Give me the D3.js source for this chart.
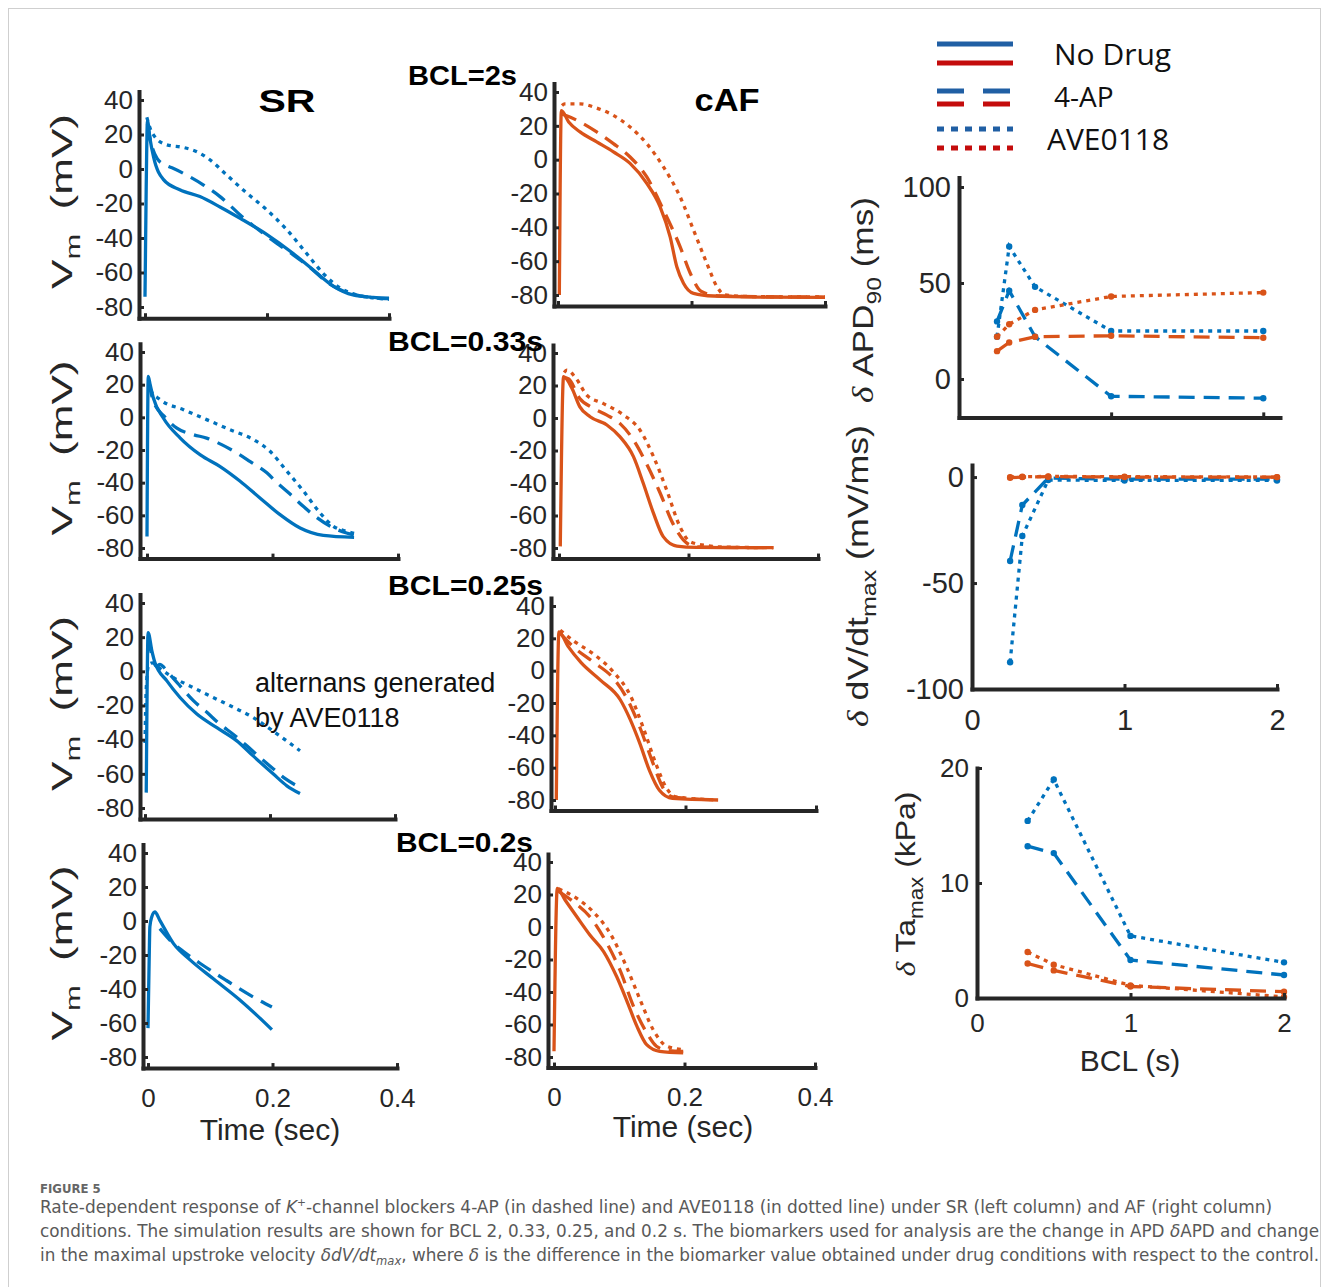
<!DOCTYPE html>
<html><head><meta charset="utf-8">
<script src="https://cdn.jsdelivr.net/npm/d3@7"></script>
<style>body{margin:0;background:#fff}</style>
</head><body>
<svg id="chart" width="1329" height="1287"></svg>
<script>
// ---------------- DATA ----------------
// Action potential traces: [time (s), Vm (mV)]
const sr2_noDrug = [[0,-74],[0.002,-10],[0.004,28],[0.008,18],[0.014,7],[0.03,-6],[0.057,-12],[0.09,-16],[0.123,-22],[0.156,-28.6],[0.2,-38],[0.243,-49],[0.276,-58.6],[0.309,-68],[0.341,-73],[0.374,-74.4],[0.4,-74.8]];
const sr2_4ap = [[0.004,26],[0.01,15],[0.02,6],[0.035,2],[0.046,0.4],[0.068,-3.5],[0.096,-9.3],[0.123,-16],[0.139,-21],[0.156,-26.7],[0.178,-33],[0.2,-39],[0.24,-49],[0.27,-57],[0.3,-66],[0.33,-71.5],[0.36,-74],[0.4,-75.2]];
const sr2_ave = [[0.003,30],[0.008,24],[0.016,18.7],[0.036,14],[0.063,12.5],[0.085,10],[0.107,5.2],[0.134,-3.5],[0.167,-14],[0.2,-23.8],[0.232,-35],[0.265,-49],[0.292,-60.5],[0.32,-69],[0.347,-73],[0.37,-74.5],[0.4,-75.5]];

const sr33_noDrug = [[0,-73],[0.002,25],[0.005,20],[0.01,12],[0.026,-0.4],[0.053,-12.7],[0.085,-23],[0.116,-30],[0.148,-39],[0.18,-49.4],[0.212,-59.6],[0.244,-67.8],[0.281,-72.3],[0.33,-73.5]];
const sr33_4ap = [[0.003,22],[0.01,10],[0.029,0],[0.047,-6.5],[0.074,-10.6],[0.095,-12.7],[0.119,-16.7],[0.143,-21.8],[0.164,-27],[0.191,-34],[0.207,-40],[0.228,-47],[0.249,-54.5],[0.268,-60.6],[0.292,-66.7],[0.318,-70.8],[0.33,-72]];
const sr33_ave = [[0.003,22],[0.005,17],[0.021,10.8],[0.058,4.7],[0.095,-1.4],[0.132,-7.5],[0.17,-13.7],[0.196,-20.8],[0.223,-33],[0.249,-45],[0.276,-58.6],[0.297,-66.7],[0.318,-69.8],[0.33,-71]];

const sr25_noDrug = [[0.002,-71],[0.005,22.7],[0.011,12],[0.016,5],[0.035,-5.6],[0.056,-15.3],[0.083,-25],[0.115,-33],[0.147,-40.7],[0.173,-49.5],[0.205,-60],[0.227,-67],[0.248,-71.5]];
const sr25_4ap = [[0.005,20],[0.012,8],[0.018,3],[0.024,4],[0.03,2.5],[0.035,0.3],[0.056,-8.5],[0.077,-17],[0.099,-24],[0.12,-31],[0.141,-36.8],[0.163,-43.6],[0.184,-50.5],[0.205,-57],[0.225,-63],[0.248,-68]];
const sr25_ave = [[0,-42],[0.002,-10],[0.006,4],[0.012,5],[0.019,3],[0.045,-3.6],[0.077,-9.5],[0.109,-15.3],[0.141,-21],[0.173,-27],[0.205,-35],[0.248,-46.5]];

const sr20_noDrug = [[0,-63],[0.002,-20],[0.003,-3.5],[0.006,2.4],[0.011,5.3],[0.019,0.4],[0.041,-13.3],[0.068,-23],[0.105,-34],[0.148,-46.6],[0.175,-55.5],[0.199,-63.9]];
const sr20_4ap = [[0.019,-4.5],[0.04,-13],[0.057,-18],[0.084,-25],[0.126,-35],[0.169,-44.7],[0.199,-50.6]];

const caf2_noDrug = [[0.002,-80],[0.005,29],[0.016,22.3],[0.033,16.4],[0.058,10.5],[0.083,4.6],[0.108,-2.2],[0.133,-14],[0.153,-27.9],[0.168,-45.6],[0.178,-63.3],[0.188,-73],[0.203,-79],[0.233,-80.6],[0.3,-81.2],[0.4,-81.4]];
const caf2_4ap = [[0.005,27],[0.013,26],[0.033,22.3],[0.058,16.4],[0.083,9.5],[0.108,1.6],[0.133,-10.2],[0.158,-29.8],[0.183,-51.5],[0.198,-67],[0.215,-78],[0.243,-80.6],[0.3,-81],[0.4,-81.2]];
const caf2_ave = [[0.006,32],[0.01,33],[0.033,33],[0.058,30.5],[0.083,26.2],[0.108,19.3],[0.133,9.5],[0.158,-4.3],[0.183,-22],[0.203,-41.6],[0.223,-61.3],[0.238,-75],[0.25,-80],[0.3,-81],[0.4,-81.2]];

const caf33_noDrug = [[0.002,-79],[0.007,25.4],[0.02,18.3],[0.032,7],[0.048,0.8],[0.074,-4.3],[0.094,-11.5],[0.115,-23.8],[0.13,-40],[0.146,-58.7],[0.161,-73],[0.182,-78.8],[0.212,-79.6],[0.331,-79.8]];
const caf33_4ap = [[0.007,25],[0.015,24],[0.032,12],[0.053,6],[0.074,1.8],[0.094,-3.3],[0.115,-13.5],[0.135,-28],[0.156,-46],[0.176,-65],[0.192,-75],[0.212,-79.3],[0.25,-79.6],[0.331,-79.8]];
const caf33_ave = [[0.008,28],[0.012,29.5],[0.027,24],[0.043,14],[0.068,9],[0.1,1.8],[0.125,-7.4],[0.146,-23.8],[0.166,-44],[0.187,-67],[0.202,-76],[0.228,-78.5],[0.26,-79.5],[0.331,-79.8]];

const caf25_noDrug = [[0.002,-80],[0.006,24],[0.02,15],[0.04,5],[0.07,-6],[0.1,-18],[0.115,-30],[0.13,-45],[0.145,-62],[0.16,-74],[0.18,-79],[0.25,-80]];
const caf25_4ap = [[0.008,23],[0.03,14],[0.06,5],[0.09,-5],[0.11,-17],[0.13,-35],[0.15,-57],[0.165,-72],[0.18,-78],[0.25,-80]];
const caf25_ave = [[0.008,25],[0.03,18],[0.06,10],[0.09,-1],[0.115,-15],[0.135,-35],[0.155,-58],[0.17,-72],[0.185,-78],[0.25,-80]];

const caf20_noDrug = [[0,-76.5],[0.005,23.7],[0.017,16.6],[0.035,6.3],[0.055,-4.9],[0.076,-15.1],[0.096,-30.5],[0.111,-44.8],[0.127,-61],[0.142,-72.4],[0.162,-76.5],[0.198,-77.5]];
const caf20_4ap = [[0.007,22],[0.03,15.5],[0.055,6.3],[0.081,-10],[0.101,-26.4],[0.122,-49],[0.142,-65],[0.157,-73.4],[0.175,-76],[0.198,-76.5]];
const caf20_ave = [[0.007,23.5],[0.035,17.6],[0.06,9.4],[0.086,-3.9],[0.111,-24.4],[0.132,-44.8],[0.152,-63.2],[0.173,-73.4],[0.198,-75.5]];

// Biomarker summary (BCL in s)
const bclApdDv = [0.25, 0.33, 0.5, 1, 2];
const apdSR_4ap = [30, 46, 22, -9, -10];
const apdSR_ave = [22, 69, 48, 25, 25];
const apdAF_4ap = [14.5, 19, 22, 22.5, 21.5];
const apdAF_ave = [22, 28.5, 36, 43, 45];

const dvSR_4ap = [-39.6, -13.2, -0.5, -1, -1];
const dvSR_ave = [-87.4, -27.8, -1.4, -1.6, -1.6];
const dvAF_4ap = [-0.3, 0, 0.2, 0, 0];
const dvAF_ave = [0, 0.2, 0.3, 0.2, 0];

const bclTa = [0.33, 0.5, 1, 2];
const taSR_4ap = [13.2, 12.6, 3.3, 2.0];
const taSR_ave = [15.4, 19, 5.4, 3.1];
const taAF_4ap = [3.0, 2.4, 1.0, 0.55];
const taAF_ave = [4.0, 2.9, 1.1, 0.1];

const vmTicks = [-80, -60, -40, -20, 0, 20, 40];
const timeTicks = [0, 0.2, 0.4];
const bclLabels = ["BCL=2s", "BCL=0.33s", "BCL=0.25s", "BCL=0.2s"];
const legendLabels = ["No Drug", "4-AP", "AVE0118"];

// ---------------- DRAW ----------------
const svg = d3.select("#chart");
const AX = "#262626";
const BLUE = "#0072BD", ORANGE = "#D95319";
const FONT = "'Liberation Sans', Arial, Helvetica, sans-serif";
const DASH = {solid: null, dashed: "16,9", dotted: "4,5"};

svg.append("rect").attr("x", 0).attr("y", 0).attr("width", 1329).attr("height", 1287).attr("fill", "#fff");
svg.append("rect").attr("x", 8.5).attr("y", 8.5).attr("width", 1312).attr("height", 1300)
  .attr("fill", "none").attr("stroke", "#cfcfcf").attr("stroke-width", 1);

function styleAxis(g, fs) {
  g.select(".domain").attr("stroke", AX).attr("stroke-width", 4).attr("stroke-linecap", "square");
  g.selectAll(".tick line").attr("stroke", AX).attr("stroke-width", 3);
  g.selectAll(".tick text").attr("fill", AX).attr("font-size", fs).attr("font-family", FONT);
}

function apPanel(cfg, traces, color, showX) {
  const pxs = (cfg.x04 - cfg.x0) / 0.4;
  const x = d3.scaleLinear().domain([-cfg.pad / pxs, 0.4]).range([cfg.x0 - cfg.pad, cfg.x04]);
  const pmv = (cfg.ym80 - cfg.y40) / 120;
  const y = d3.scaleLinear().domain([-86.5, 45]).range([cfg.ym80 + 6.5 * pmv, cfg.y40 - 5 * pmv]);
  const g = svg.append("g");
  const line = d3.line().x(d => x(d[0])).y(d => y(d[1])).curve(d3.curveMonotoneX);
  traces.forEach(tr => {
    g.append("path").attr("d", line(tr.data)).attr("fill", "none").attr("stroke", color)
      .attr("stroke-width", 3.3).attr("stroke-dasharray", DASH[tr.style]).attr("stroke-linejoin", "round");
  });
  const ya = d3.axisLeft(y).tickValues(vmTicks).tickSize(-5).tickSizeOuter(0).tickPadding(6).tickFormat(d => String(d));
  const gy = g.append("g").attr("transform", `translate(${x(x.domain()[0])},0)`).call(ya);
  styleAxis(gy, 26);
  const xa = d3.axisBottom(x).tickValues(timeTicks).tickSize(-5).tickSizeOuter(0).tickPadding(20)
    .tickFormat(d => showX ? String(d) : "");
  const gx = g.append("g").attr("transform", `translate(0,${y(-86.5)})`).call(xa);
  styleAxis(gx, 26);
  return {x, y};
}

function ylabelVm(cx, cy, len) {
  const t = svg.append("text").attr("transform", `translate(${cx},${cy}) rotate(-90)`)
    .attr("text-anchor", "middle").attr("font-family", FONT).attr("font-size", 30).attr("fill", AX)
    .attr("textLength", len).attr("lengthAdjust", "spacingAndGlyphs");
  t.append("tspan").text("V");
  t.append("tspan").attr("font-size", 21).attr("dy", 8).text("m");
  t.append("tspan").attr("dy", -8).text("\u00a0\u00a0(mV)");
}

// SR column
const srCfg = [
  {x0: 145, x04: 389, y40: 100, ym80: 307, pad: 6},
  {x0: 147, x04: 398, y40: 352, ym80: 548, pad: 7},
  {x0: 145, x04: 395, y40: 603, ym80: 808, pad: 5},
  {x0: 148, x04: 397, y40: 853, ym80: 1057, pad: 5}
];
const srTraces = [
  [{data: sr2_noDrug, style: "solid"}, {data: sr2_4ap, style: "dashed"}, {data: sr2_ave, style: "dotted"}],
  [{data: sr33_noDrug, style: "solid"}, {data: sr33_4ap, style: "dashed"}, {data: sr33_ave, style: "dotted"}],
  [{data: sr25_noDrug, style: "solid"}, {data: sr25_4ap, style: "dashed"}, {data: sr25_ave, style: "dotted"}],
  [{data: sr20_noDrug, style: "solid"}, {data: sr20_4ap, style: "dashed"}]
];
srCfg.forEach((c, i) => {
  apPanel(c, srTraces[i], BLUE, i === 3);
  ylabelVm(72, (c.y40 + c.ym80) / 2 - 2, 175);
});

// cAF column
const cafCfg = [
  {x0: 558, x04: 825, y40: 92, ym80: 295, pad: 4},
  {x0: 559, x04: 818, y40: 353, ym80: 548, pad: 6},
  {x0: 555, x04: 816, y40: 606, ym80: 800, pad: 4},
  {x0: 554, x04: 815, y40: 862, ym80: 1057, pad: 6}
];
const cafTraces = [
  [{data: caf2_noDrug, style: "solid"}, {data: caf2_4ap, style: "dashed"}, {data: caf2_ave, style: "dotted"}],
  [{data: caf33_noDrug, style: "solid"}, {data: caf33_4ap, style: "dashed"}, {data: caf33_ave, style: "dotted"}],
  [{data: caf25_noDrug, style: "solid"}, {data: caf25_4ap, style: "dashed"}, {data: caf25_ave, style: "dotted"}],
  [{data: caf20_noDrug, style: "solid"}, {data: caf20_4ap, style: "dashed"}, {data: caf20_ave, style: "dotted"}]
];
cafCfg.forEach((c, i) => apPanel(c, cafTraces[i], ORANGE, i === 3));

// Titles
svg.append("text").attr("x", 287).attr("y", 112).attr("text-anchor", "middle").attr("font-family", FONT)
  .attr("font-weight", "bold").attr("font-size", 32).attr("fill", "#000").attr("textLength", 57).attr("lengthAdjust", "spacingAndGlyphs").text("SR");
svg.append("text").attr("x", 727).attr("y", 111).attr("text-anchor", "middle").attr("font-family", FONT)
  .attr("font-weight", "bold").attr("font-size", 32).attr("fill", "#000").attr("textLength", 65).attr("lengthAdjust", "spacingAndGlyphs").text("cAF");

const bclPos = [{x: 408, y: 85, w: 109}, {x: 388, y: 351, w: 155}, {x: 388, y: 595, w: 155}, {x: 396, y: 852, w: 137}];
bclLabels.forEach((s, i) => {
  svg.append("text").attr("x", bclPos[i].x).attr("y", bclPos[i].y).attr("font-family", FONT)
    .attr("font-weight", "bold").attr("font-size", 28).attr("fill", "#000")
    .attr("textLength", bclPos[i].w).attr("lengthAdjust", "spacingAndGlyphs").text(s);
});

// Annotation
svg.append("text").attr("x", 255).attr("y", 692).attr("font-family", FONT).attr("font-size", 27).attr("fill", "#111").text("alternans generated");
svg.append("text").attr("x", 255).attr("y", 727).attr("font-family", FONT).attr("font-size", 27).attr("fill", "#111").text("by AVE0118");

// Time axis labels
svg.append("text").attr("x", 270).attr("y", 1140).attr("text-anchor", "middle").attr("font-family", FONT).attr("font-size", 30).attr("fill", AX).text("Time (sec)");
svg.append("text").attr("x", 683).attr("y", 1137).attr("text-anchor", "middle").attr("font-family", FONT).attr("font-size", 30).attr("fill", AX).text("Time (sec)");

// ------- Right column biomarker panels -------
function bclPanel(cfg, series, xs, showX, fs) {
  const x = d3.scaleLinear().domain([0, cfg.xmax]).range([cfg.xl, cfg.xr]);
  const y = d3.scaleLinear().domain([cfg.ymin, cfg.ymax]).range([cfg.yb, cfg.yt]);
  const g = svg.append("g");
  const line = d3.line().x((d, i) => x(xs[i])).y(d => y(d));
  series.forEach(s => {
    g.append("path").attr("d", line(s.data)).attr("fill", "none").attr("stroke", s.color)
      .attr("stroke-width", 3.3).attr("stroke-dasharray", DASH[s.style]);
    g.selectAll(null).data(s.data).enter().append("circle")
      .attr("cx", (d, i) => x(xs[i])).attr("cy", d => y(d)).attr("r", 3.2).attr("fill", s.color);
  });
  const ya = d3.axisLeft(y).tickValues(cfg.yticks).tickSize(-5).tickSizeOuter(0).tickPadding(8).tickFormat(d => String(d));
  const gy = g.append("g").attr("transform", `translate(${cfg.xl},0)`).call(ya);
  styleAxis(gy, fs);
  const xa = d3.axisBottom(x).tickValues([0, 1, 2]).tickSize(-5).tickSizeOuter(0).tickPadding(cfg.xpad || 18)
    .tickFormat(d => showX ? String(d) : "");
  const gx = g.append("g").attr("transform", `translate(0,${cfg.yb})`).call(xa);
  styleAxis(gx, fs);
}

bclPanel({xmax: 2.11, xl: 959, xr: 1280, ymin: -20, ymax: 105, yb: 417.4, yt: 177.4, yticks: [0, 50, 100]},
  [{data: apdSR_4ap, color: BLUE, style: "dashed"}, {data: apdSR_ave, color: BLUE, style: "dotted"},
   {data: apdAF_4ap, color: ORANGE, style: "dashed"}, {data: apdAF_ave, color: ORANGE, style: "dotted"}],
  bclApdDv, false, 29);

bclPanel({xmax: 2, xl: 972, xr: 1277, ymin: -100, ymax: 5.7, yb: 689, yt: 465, yticks: [-100, -50, 0], xpad: 20},
  [{data: dvSR_4ap, color: BLUE, style: "dashed"}, {data: dvSR_ave, color: BLUE, style: "dotted"},
   {data: dvAF_4ap, color: ORANGE, style: "dashed"}, {data: dvAF_ave, color: ORANGE, style: "dotted"}],
  bclApdDv, true, 29);

bclPanel({xmax: 2, xl: 977, xr: 1284, ymin: 0, ymax: 20, yb: 998, yt: 768, yticks: [0, 10, 20], xpad: 16},
  [{data: taSR_4ap, color: BLUE, style: "dashed"}, {data: taSR_ave, color: BLUE, style: "dotted"},
   {data: taAF_4ap, color: ORANGE, style: "dashed"}, {data: taAF_ave, color: ORANGE, style: "dotted"}],
  bclTa, true, 26);

svg.append("text").attr("x", 1130).attr("y", 1071).attr("text-anchor", "middle").attr("font-family", FONT).attr("font-size", 30).attr("fill", AX).text("BCL (s)");

function ylabelRight(cx, cy, len, parts, fs) {
  const t = svg.append("text").attr("transform", `translate(${cx},${cy}) rotate(-90)`)
    .attr("text-anchor", "middle").attr("font-family", FONT).attr("font-size", fs).attr("fill", AX)
    .attr("textLength", len).attr("lengthAdjust", "spacingAndGlyphs");
  t.append("tspan").attr("font-family", "'Liberation Serif', 'DejaVu Serif', serif").attr("font-style", "italic").text("\u03b4");
  t.append("tspan").text("\u00a0" + parts[0]);
  t.append("tspan").attr("font-size", fs * 0.7).attr("dy", 8).text(parts[1]);
  t.append("tspan").attr("dy", -8).text("\u00a0" + parts[2]);
}
ylabelRight(873, 300, 206, ["APD", "90", "(ms)"], 30);
ylabelRight(868, 576, 302, ["dV/dt", "max", "(mV/ms)"], 30);
ylabelRight(915, 884, 185, ["Ta", "max", "(kPa)"], 28);

// ------- Legend -------
const LBLUE = "#205fa4", LRED = "#c40c0c";
const legG = svg.append("g");
const legRows = [
  {y: [44, 63], dash: null},
  {y: [91, 104], dash: "27,19"},
  {y: [129, 148], dash: "7,7"}
];
legRows.forEach(r => {
  [LBLUE, LRED].forEach((c, j) => {
    legG.append("line").attr("x1", 937).attr("x2", 1013).attr("y1", r.y[j]).attr("y2", r.y[j])
      .attr("stroke", c).attr("stroke-width", 5).attr("stroke-dasharray", r.dash);
  });
});
const legText = [{x: 1054, y: 65, fs: 30}, {x: 1054, y: 107, fs: 28}, {x: 1047, y: 150, fs: 30}];
legendLabels.forEach((s, i) => {
  legG.append("text").attr("x", legText[i].x).attr("y", legText[i].y).attr("font-family", "'Open Sans', 'Noto Sans', sans-serif")
    .attr("font-size", legText[i].fs).attr("fill", "#111").text(s);
});

// ------- Caption -------
const CAPF = "'Liberation Sans Narrow', 'DejaVu Sans Condensed', 'Liberation Sans', sans-serif";
svg.append("text").attr("x", 40).attr("y", 1193).attr("font-family", CAPF).attr("font-size", 13).attr("font-weight", "bold")
  .attr("fill", "#666").text("FIGURE 5");
function capLine(y, len, build) {
  const t = svg.append("text").attr("x", 40).attr("y", y).attr("font-family", CAPF).attr("font-size", 17.5)
    .attr("fill", "#595959").attr("textLength", len).attr("lengthAdjust", "spacingAndGlyphs");
  build(t);
}
capLine(1213, 1232, t => {
  t.append("tspan").text("Rate-dependent response of ");
  t.append("tspan").attr("font-style", "italic").text("K");
  t.append("tspan").attr("font-size", 11).attr("dy", -7).text("+");
  t.append("tspan").attr("dy", 7).text("-channel blockers 4-AP (in dashed line) and AVE0118 (in dotted line) under SR (left column) and AF (right column)");
});
capLine(1237, 1279, t => {
  t.append("tspan").text("conditions. The simulation results are shown for BCL 2, 0.33, 0.25, and 0.2 s. The biomarkers used for analysis are the change in APD ");
  t.append("tspan").attr("font-style", "italic").text("\u03b4");
  t.append("tspan").text("APD and change");
});
capLine(1261, 1279, t => {
  t.append("tspan").text("in the maximal upstroke velocity ");
  t.append("tspan").attr("font-style", "italic").text("\u03b4dV/dt");
  t.append("tspan").attr("font-style", "italic").attr("font-size", 12).attr("dy", 4).text("max");
  t.append("tspan").attr("dy", -4).text(", where ");
  t.append("tspan").attr("font-style", "italic").text("\u03b4");
  t.append("tspan").text(" is the difference in the biomarker value obtained under drug conditions with respect to the control.");
});
</script>
</body></html>
